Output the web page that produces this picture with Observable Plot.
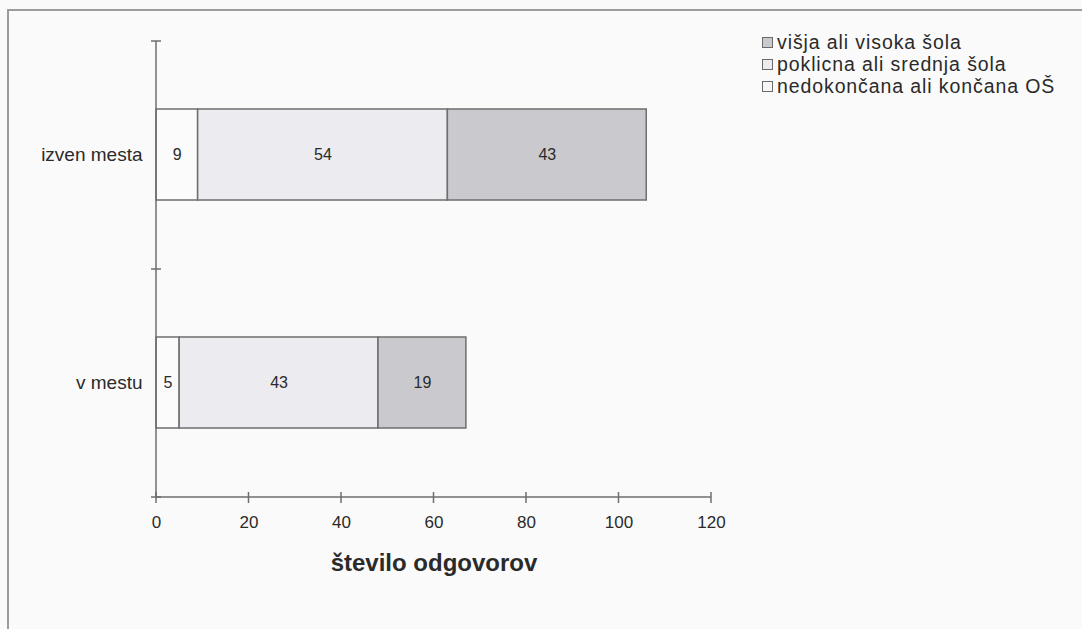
<!DOCTYPE html>
<html>
<head>
<meta charset="utf-8">
<script src="https://cdn.jsdelivr.net/npm/d3@7"></script>
<script src="https://cdn.jsdelivr.net/npm/@observablehq/plot@0.6"></script>
<style>
  html, body { margin: 0; padding: 0; background: #fafafa; }
  body { width: 1082px; height: 629px; position: relative; overflow: hidden; font-family: "Liberation Sans", Arial, sans-serif; }
  #border { position: absolute; left: 7px; top: 9px; right: -10px; bottom: -10px; border-left: 2px solid #9c9c9c; border-top: 2px solid #9c9c9c; }
  #chart { position: absolute; left: 0; top: 0; }
  #legend { position: absolute; left: 762px; top: 31px; font-size: 19.5px; letter-spacing: 0.9px; color: #2a2a2a; line-height: 22px; }
  #legend .row { display: flex; align-items: center; white-space: nowrap; height: 22px; }
  #legend .sw { width: 9px; height: 9px; border: 1px solid #6a6a6a; margin-right: 4px; flex: none; }
</style>
</head>
<body>
<div id="border"></div>
<div id="chart"></div>
<div id="legend"></div>
<script>
// ---- data ----
const categories = ["izven mesta", "v mestu"];
const series = ["nedokončana ali končana OŠ", "poklicna ali srednja šola", "višja ali visoka šola"];
const valuesIzven = [9, 54, 43];
const valuesVMestu = [5, 43, 19];
const seriesColors = ["#fbfbfb", "#ececf0", "#cacace"];
const legendOrder = ["višja ali visoka šola", "poklicna ali srednja šola", "nedokončana ali končana OŠ"];
const xTicks = [0, 20, 40, 60, 80, 100, 120];
const xTitle = "število odgovorov";

const rows = [];
[valuesIzven, valuesVMestu].forEach((vals, i) => {
  vals.forEach((v, j) => rows.push({category: categories[i], series: series[j], value: v}));
});

// custom axis lines with "cross" tick marks
function axes(index, scales, values, dim) {
  const x = scales.x;
  const g = d3.create("svg:g").attr("stroke", "#6e6e6e").attr("fill", "none");
  const top = dim.marginTop, bottom = dim.height - dim.marginBottom;
  const left = dim.marginLeft, right = dim.width - dim.marginRight;
  const x0 = x(0);
  g.append("line").attr("x1", x0).attr("x2", x0).attr("y1", top).attr("y2", bottom).attr("stroke-width", 1.5);
  g.append("line").attr("x1", left).attr("x2", right).attr("y1", bottom).attr("y2", bottom).attr("stroke-width", 1.5);
  const step = (bottom - top) / categories.length;
  const bounds = d3.range(categories.length + 1).map(i => top + i * step);
  for (const b of bounds) {
    g.append("line").attr("x1", x0 - 5).attr("x2", x0 + 5).attr("y1", b).attr("y2", b).attr("stroke-width", 1.5);
  }
  for (const t of xTicks) {
    const px = x(t);
    g.append("line").attr("x1", px).attr("x2", px).attr("y1", bottom - 5).attr("y2", bottom + 6).attr("stroke-width", 1.5);
  }
  return g.node();
}

const chart = Plot.plot({
  width: 1082,
  height: 629,
  marginLeft: 156,
  marginRight: 371,
  marginTop: 41,
  marginBottom: 132,
  style: {background: "transparent", fontFamily: "'Liberation Sans', Arial, sans-serif", color: "#2a2a2a"},
  x: {domain: [0, 120], ticks: xTicks},
  y: {domain: categories, paddingInner: 0.6, paddingOuter: 0.3},
  color: {domain: series, range: seriesColors},
  marks: [
    Plot.barX(rows, Plot.stackX({x: "value", y: "category", fill: "series", stroke: "#6e6e6e", strokeWidth: 1.5})),
    Plot.text(rows, Plot.stackX({x: "value", y: "category", z: "series", text: d => String(d.value), fontSize: 16, fill: "#2a2a2a"})),
    axes,
    Plot.axisY({tickSize: 0, tickPadding: 14, fontSize: 19, label: null}),
    Plot.axisX({ticks: xTicks, tickSize: 0, tickPadding: 18, fontSize: 17, label: null}),
    Plot.axisX({ticks: [], tickSize: 0, label: xTitle, labelAnchor: "center", labelArrow: "none", labelOffset: 73, fontSize: 24, fontWeight: "bold"})
  ]
});
document.getElementById("chart").appendChild(chart);

const legend = document.getElementById("legend");
for (const name of legendOrder) {
  const row = document.createElement("div");
  row.className = "row";
  const sw = document.createElement("span");
  sw.className = "sw";
  const c = seriesColors[series.indexOf(name)];
  sw.style.background = c === "#fbfbfb" ? "#f6f6f6" : c;
  const label = document.createElement("span");
  label.textContent = name;
  row.appendChild(sw);
  row.appendChild(label);
  legend.appendChild(row);
}
</script>
</body>
</html>
